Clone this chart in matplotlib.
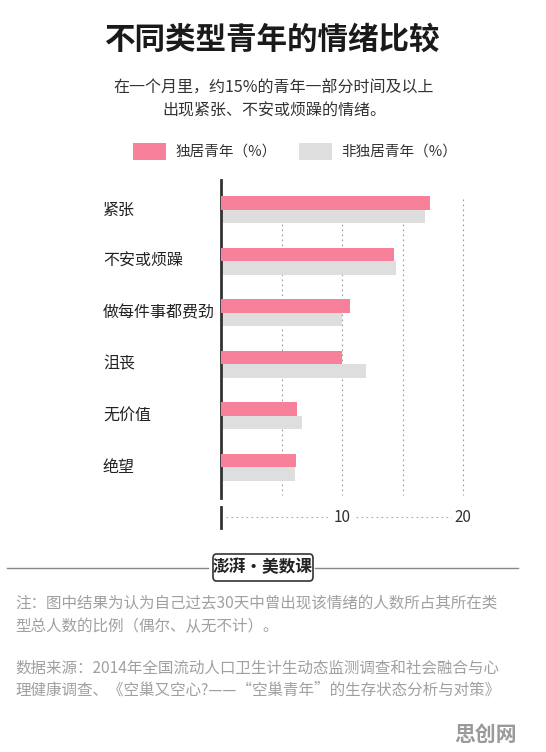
import matplotlib
matplotlib.use("Agg")
import matplotlib.pyplot as plt
from matplotlib.patches import Rectangle, FancyBboxPatch
from matplotlib.lines import Line2D
import matplotlib.transforms as mtransforms

plt.rcParams['font.family'] = ['Noto Sans CJK SC', 'DejaVu Sans']

categories = ["紧张", "不安或烦躁", "做每件事都费劲", "沮丧", "无价值", "绝望"]
alone = [17.3, 14.3, 10.7, 10.0, 6.3, 6.2]
not_alone = [16.9, 14.5, 10.0, 12.0, 6.7, 6.1]
series_names = ["独居青年（%）", "非独居青年（%）"]
tick_values = [10, 20]
tick_labels = ["10", "20"]
grid_values = [5, 10, 15, 20]

PINK = "#F7819A"
GRAY = "#DEDEDE"
W, H = 546, 752

fig = plt.figure(figsize=(W / 100, H / 100), dpi=100)
fig.patch.set_facecolor("white")

def fx(px):
    return px / W

def fy(py):
    return 1 - py / H

# Titles
fig.text(fx(273), fy(40), "不同类型青年的情绪比较", ha="center", va="center",
         fontsize=22, fontweight="bold", color="#1a1a1a")
fig.text(fx(274), fy(88), "在一个月里，约15%的青年一部分时间及以上", ha="center", va="center",
         fontsize=11.5, color="#333333")
fig.text(fx(274), fy(111), "出现紧张、不安或烦躁的情绪。", ha="center", va="center",
         fontsize=11.5, color="#333333")

# Legend
for x0, col, name in [(133, PINK, series_names[0]), (299, GRAY, series_names[1])]:
    fig.patches.append(Rectangle((fx(x0), fy(160)), fx(33), (160 - 143) / H,
                                 transform=fig.transFigure, facecolor=col, edgecolor="none"))
    fig.text(fx(x0 + 42), fy(152), name, ha="left", va="center", fontsize=10.5, color="#333333")

# Main axes
ax_left, ax_right = 221, 221 + 12.1 * 21
ax_top, ax_bot = 180, 498
ax = fig.add_axes([fx(ax_left), fy(ax_bot), (ax_right - ax_left) / W, (ax_bot - ax_top) / H])
ax.set_xlim(0, 21)
ax.set_ylim(5.6, -0.58)
bh = 0.26
idx = list(range(len(categories)))
ax.barh([i - bh / 2 for i in idx], alone, height=bh, color=PINK, zorder=3)
ax.barh([i + bh / 2 for i in idx], not_alone, height=bh, color=GRAY, zorder=2)
for g in grid_values:
    ax.plot([g, g], [0.94, 0.01], transform=ax.get_xaxis_transform(), color="#9a9a9a",
            lw=0.8, ls=(0, (1.5, 3)), zorder=1)
for s in ["top", "right", "bottom"]:
    ax.spines[s].set_visible(False)
ax.spines["left"].set_color("#333333")
ax.spines["left"].set_linewidth(2)
ax.set_xticks([])
ax.set_yticks([])
ax.patch.set_alpha(0)

# category labels
ytr = mtransforms.blended_transform_factory(fig.transFigure, ax.transData)
for i, c in enumerate(categories):
    fig.text(fx(103), i, c, transform=ytr, ha="left", va="center", fontsize=11.5, color="#222222")

# Bottom tick scale
xtr = ax.get_xaxis_transform()
yb = (ax_bot - 517) / (ax_bot - ax_top)
ax.plot([0.45, 19.2], [yb, yb], transform=xtr, clip_on=False, color="#aaaaaa",
        lw=0.8, ls=(0, (1.5, 3)))
ax.plot([0, 0], [(ax_bot - 507) / (ax_bot - ax_top), (ax_bot - 528) / (ax_bot - ax_top)],
        transform=xtr, clip_on=False, color="#333333", lw=2)
for v, lab in zip(tick_values, tick_labels):
    ax.text(v, yb, lab, transform=xtr, ha="center", va="center", fontsize=11, color="#333333",
            bbox=dict(facecolor="white", edgecolor="none", pad=2))

# Footer separator and logo
fig.lines.append(Line2D([fx(7), fx(208)], [fy(568), fy(568)], transform=fig.transFigure,
                        color="#888888", lw=1))
fig.lines.append(Line2D([fx(315), fx(518)], [fy(568), fy(568)], transform=fig.transFigure,
                        color="#888888", lw=1))
fig.patches.append(FancyBboxPatch((fx(213), fy(581)), fx(100), (581 - 554) / H,
                                  boxstyle="round,pad=0,rounding_size=0.006",
                                  transform=fig.transFigure, facecolor="white",
                                  edgecolor="#333333", lw=1.2))
fig.text(fx(263), fy(567), "澎湃·美数课", ha="center", va="center", fontsize=12,
         fontweight="bold", color="#222222")

# Notes
note_col = "#a0a0a0"
fig.text(fx(15), fy(604), "注：图中结果为认为自己过去30天中曾出现该情绪的人数所占其所在类",
         ha="left", va="center", fontsize=11.2, color=note_col)
fig.text(fx(15), fy(627), "型总人数的比例（偶尔、从无不计）。",
         ha="left", va="center", fontsize=11.2, color=note_col)
fig.text(fx(15), fy(668), "数据来源：2014年全国流动人口卫生计生动态监测调查和社会融合与心",
         ha="left", va="center", fontsize=11.2, color=note_col)
fig.text(fx(15), fy(690), "理健康调查、《空巢又空心?——“空巢青年”的生存状态分析与对策》",
         ha="left", va="center", fontsize=11.2, color=note_col)

fig.text(fx(517), fy(734), "思创网", ha="right", va="center", fontsize=15,
         fontweight="bold", color="#9a9a9a")

fig.savefig("out.png", dpi=100)
